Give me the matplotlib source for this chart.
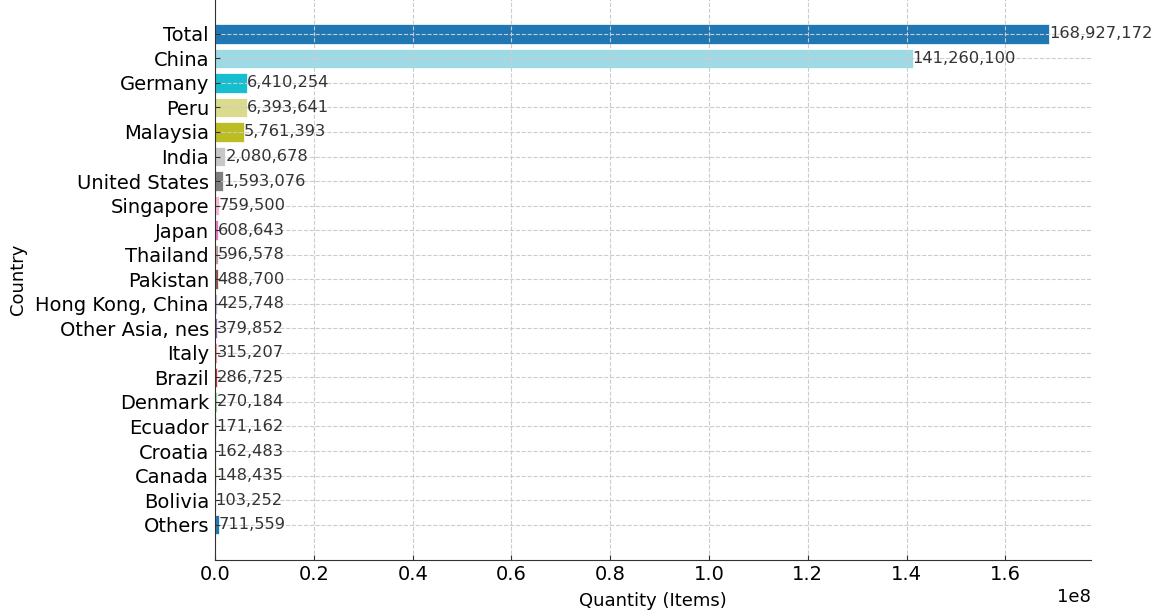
import matplotlib.pyplot as plt
import numpy as np

countries = ["Total", "China", "Germany", "Peru", "Malaysia", "India", "United States",
             "Singapore", "Japan", "Thailand", "Pakistan", "Hong Kong, China",
             "Other Asia, nes", "Italy", "Brazil", "Denmark", "Ecuador", "Croatia",
             "Canada", "Bolivia", "Others"]
quantities = [168927172, 141260100, 6410254, 6393641, 5761393, 2080678, 1593076,
              759500, 608643, 596578, 488700, 425748, 379852, 315207, 286725,
              270184, 171162, 162483, 148435, 103252, 711559]

# plotted bottom-up so the colours run through tab20 from "Others" upward
names = countries[::-1]
values = quantities[::-1]
cmap = plt.get_cmap("tab20")
colors = [cmap(i % 20) for i in range(len(values))]

fig = plt.figure(figsize=(11.57, 6.13), dpi=100)
ax = fig.add_axes([0.186, 0.0865, 0.757, 0.916])

bars = ax.barh(names, values, color=colors, edgecolor="white", linewidth=0.5)
for bar, v in zip(bars, values):
    ax.text(bar.get_width(), bar.get_y() + bar.get_height() / 2, f"{v:,}",
            va="center", ha="left", fontsize=11.7, color="#333333")

ax.grid(True, linestyle="--", color="#cccccc", linewidth=0.8)
ax.spines["top"].set_visible(False)
ax.spines["right"].set_visible(False)
for s in ("left", "bottom"):
    ax.spines[s].set_color("#333333")
ax.tick_params(axis="both", direction="in", labelsize=14, color="#333333")
ax.tick_params(axis="y", pad=4.5)
ax.xaxis.get_offset_text().set_fontsize(13)
ax.set_xlabel("Quantity (Items)", fontsize=13, labelpad=6)
ax.set_ylabel("Country", fontsize=13, labelpad=6)

plt.savefig("out.png", dpi=100)
